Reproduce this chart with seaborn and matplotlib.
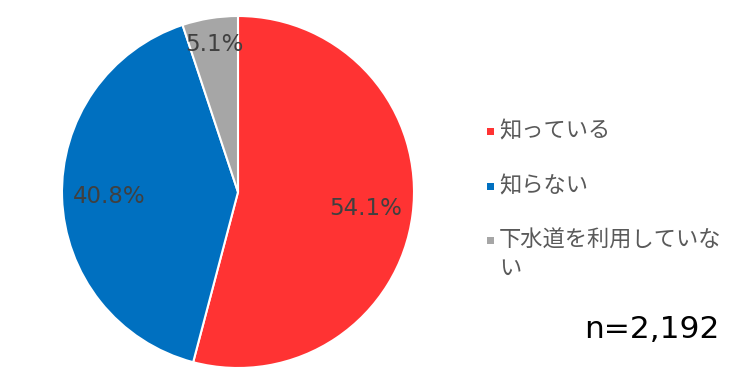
import matplotlib
matplotlib.use("Agg")
import matplotlib.pyplot as plt
import seaborn as sns
import numpy as np
from matplotlib.patches import Rectangle

sns.set_theme(style="white")
plt.rcParams['font.family'] = ['Noto Sans CJK JP', 'DejaVu Sans']

categories = ["知っている", "知らない", "下水道を利用していない"]
legend_labels = ["知っている", "知らない", "下水道を利用していな\nい"]
values = [54.1, 40.8, 5.1]
colors = ["#FF3333", "#0070C0", "#A6A6A6"]
label_dist = [0.73, 0.73, 0.85]
n_text = "n=2,192"

W, H = 740, 390
fig = plt.figure(figsize=(W / 100, H / 100), dpi=100)
fig.patch.set_facecolor("white")

cx, cy, r = 238, 192, 176
ax = fig.add_axes([(cx - r) / W, (H - cy - r) / H, 2 * r / W, 2 * r / H])

wedges, _ = ax.pie(values, colors=colors, startangle=90, counterclock=False,
                   radius=1.0, wedgeprops=dict(edgecolor="white", linewidth=1.5))
for w, v, d in zip(wedges, values, label_dist):
    ang = np.deg2rad((w.theta1 + w.theta2) / 2)
    ax.text(d * np.cos(ang), d * np.sin(ang), f"{v:.1f}%", ha="center", va="center",
            fontsize=16.5, color="#404040", family="DejaVu Sans")
ax.set_xlim(-1, 1)
ax.set_ylim(-1, 1)
ax.set_aspect("equal")
ax.axis("off")

# manual legend
row_y = [131, 186, 240]
line_gap = 28
for lab, col, y in zip(legend_labels, colors, row_y):
    fig.patches.append(Rectangle(((487) / W, (H - y - 4) / H), 7 / W, 7 / H,
                                 transform=fig.transFigure, facecolor=col, edgecolor="none"))
    for i, line in enumerate(lab.split("\n")):
        fig.text(499 / W, (H - y - i * line_gap) / H, line, ha="left", va="center",
                 fontsize=16, color="#595959")

fig.text(652 / W, (H - 330) / H, n_text, ha="center", va="center", fontsize=22.5,
         color="#000000", family="DejaVu Sans")

fig.savefig("out.png", dpi=100, facecolor="white")
